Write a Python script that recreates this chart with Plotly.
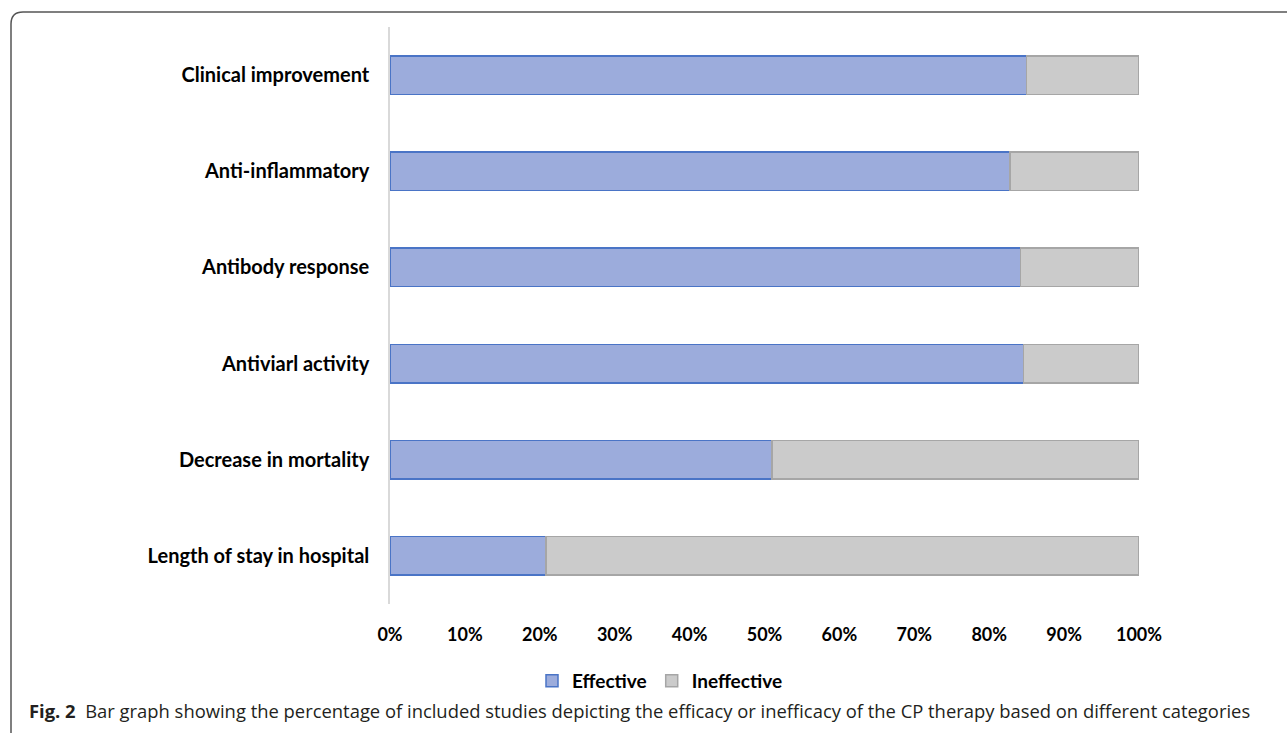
import plotly.graph_objects as go

categories = ["Clinical improvement", "Anti-inflammatory", "Antibody response",
              "Antiviarl activity", "Decrease in mortality", "Length of stay in hospital"]
effective = [85.0, 82.8, 84.2, 84.6, 51.0, 20.8]
ineffective = [100 - v for v in effective]
tick_vals = [0, 10, 20, 30, 40, 50, 60, 70, 80, 90, 100]
tick_text = [f"{v}%" for v in tick_vals]

W, H = 1287, 733
L, R, T, B = 390, 1139, 27, 604

def px(x):
    return (x - L) / (R - L)

def py(y):
    return (B - y) / (B - T)

fig = go.Figure()
fig.add_trace(go.Bar(
    y=categories, x=effective, name="Effective", orientation="h",
    marker=dict(color="#9cacdc", line=dict(color="#4a74c6", width=1.5)),
    width=0.4,
))
fig.add_trace(go.Bar(
    y=categories, x=ineffective, name="Ineffective", orientation="h",
    marker=dict(color="#cbcbcb", line=dict(color="#a6a6a6", width=1.5)),
    width=0.4,
))

font_family = "Lato, Noto Sans, sans-serif"

# rounded border (top-left corner)
x0, y0 = px(11), py(12)
rx, ry = 12 / (R - L), 12 / (B - T)
xr, yb = px(1300), py(745)
path = (f"M {xr},{y0} L {x0+rx},{y0} Q {x0},{y0} {x0},{y0-ry} L {x0},{yb}")

fig.update_layout(
    width=W, height=H,
    margin=dict(l=L, r=W - R, t=T, b=H - B),
    paper_bgcolor="white", plot_bgcolor="white",
    barmode="stack", bargap=0.6,
    font=dict(family=font_family, color="#000000"),
    xaxis=dict(range=[0, 100], tickvals=tick_vals, ticktext=tick_text,
               showgrid=False, zeroline=False, showline=False,
               tickfont=dict(size=18, family=font_family, weight="bold"),
               ticks="", ticklabelstandoff=18, fixedrange=True),
    yaxis=dict(categoryorder="array", categoryarray=categories[::-1],
               showgrid=False, zeroline=False, showline=True,
               linecolor="#d9d9d9", linewidth=1.5, ticks="",
               tickfont=dict(size=20, family=font_family, weight="bold"),
               ticklabelstandoff=15),
    legend=dict(orientation="h", x=px(660), xanchor="center",
                y=py(681), yanchor="middle",
                font=dict(size=19, family=font_family, weight="bold"),
                itemwidth=30, traceorder="normal"),
    shapes=[dict(type="path", path=path, xref="paper", yref="paper",
                 line=dict(color="#555555", width=1.5), layer="above")],
    annotations=[dict(
        text="<b>Fig. 2</b>  Bar graph showing the percentage of included studies depicting the efficacy or inefficacy of the CP therapy based on different categories",
        xref="paper", yref="paper", x=px(27), y=py(710), xanchor="left",
        yanchor="middle", showarrow=False,
        font=dict(size=18.4, family="Open Sans, Noto Sans, sans-serif", color="#231f20"))],
)

fig.write_html("out.html")
